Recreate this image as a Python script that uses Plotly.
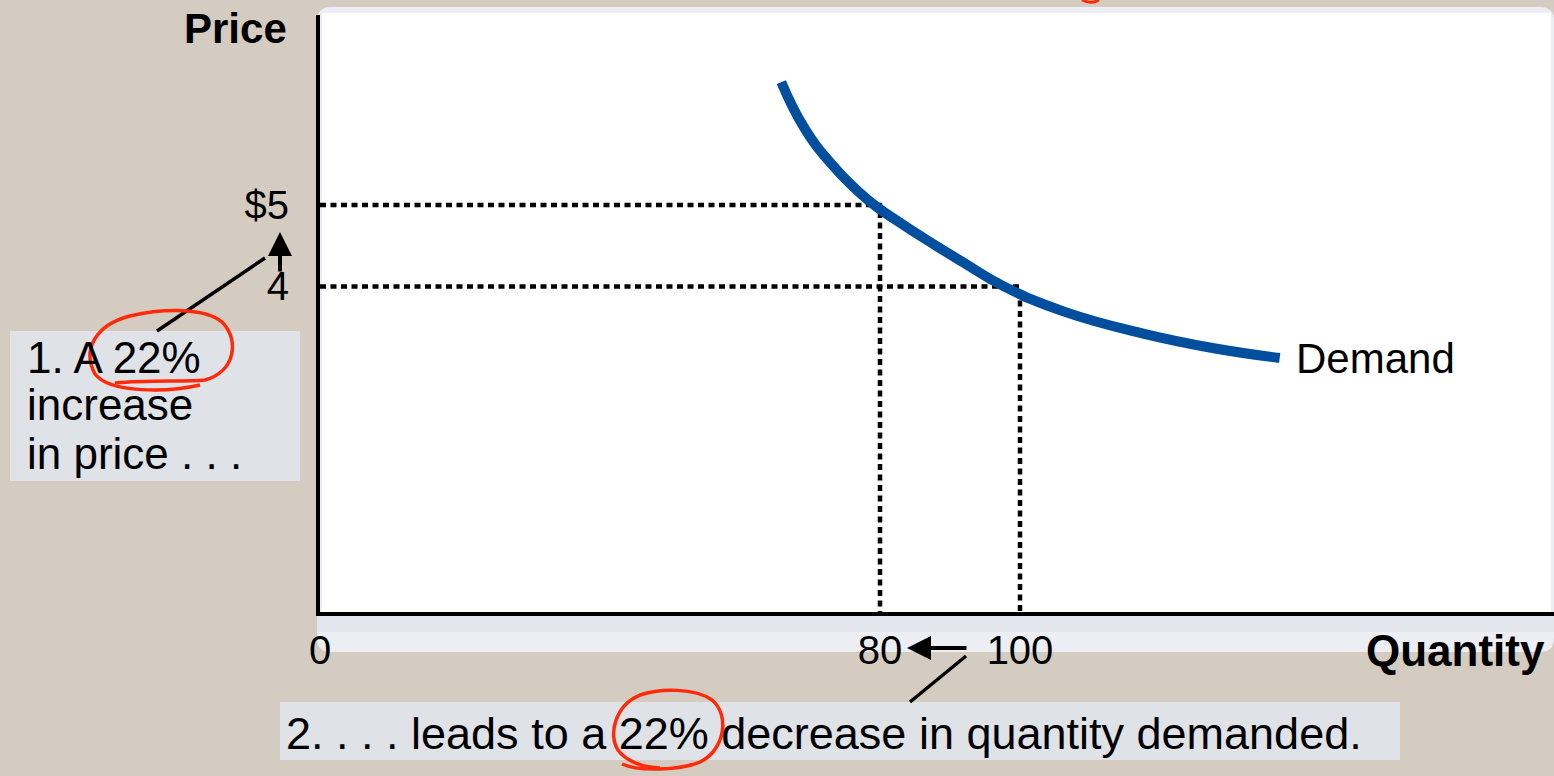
import plotly.graph_objects as go

# demand curve (quantity, price)
demand_q = [65.9, 69.1, 73.1, 78.3, 82.9, 88.0, 91.8, 97.7, 106.3, 117.6, 127.7, 137.1]
demand_p = [6.51, 5.96, 5.50, 5.06, 4.78, 4.50, 4.30, 4.00, 3.69, 3.42, 3.24, 3.12]

# the two points on the curve
prices = [5, 4]
quantities = [80, 100]

y_ticks = [5, 4]
y_tick_text = ["$5", "4"]
x_ticks = [0, 80, 100]
x_tick_text = ["0", "80", "100"]

FONT = "Arial, 'Liberation Sans', sans-serif"
W, H = 1554, 776
L, R, T, B = 320, 0, 15, 164
PW, PH = W - L - R, H - T - B


def px(x):
    return (x - L) / PW


def py(y):
    return (H - B - y) / PH


def path(cmds):
    out = ""
    for c, pts in cmds:
        out += c + " ".join("%.5f,%.5f" % (px(x), py(y)) for x, y in pts) + " "
    return out


def rounded(x0, y0, x1, y1, r):
    s = path([("M", [(x0 + r, y0)]), ("L", [(x1 - r, y0)]), ("Q", [(x1, y0), (x1, y0 + r)]),
              ("L", [(x1, y1 - r)]), ("Q", [(x1, y1), (x1 - r, y1)]), ("L", [(x0 + r, y1)]),
              ("Q", [(x0, y1), (x0, y1 - r)]), ("L", [(x0, y0 + r)]), ("Q", [(x0, y0), (x0 + r, y0)])])
    return s + "Z"


fig = go.Figure()

# dotted guide lines
for q, p in zip(quantities, prices):
    fig.add_trace(go.Scatter(
        x=[0, q, q], y=[p, p, 0],
        mode="lines",
        line=dict(color="black", width=4.5, dash="6px,4.5px"),
        hoverinfo="skip",
        showlegend=False,
    ))

fig.add_trace(go.Scatter(
    x=demand_q, y=demand_p,
    mode="lines",
    line=dict(color="#004f9f", width=10, shape="spline", smoothing=1.3),
    name="Demand",
    showlegend=False,
))

shapes = [
    # slide panel behind the graph
    dict(type="path", xref="paper", yref="paper", layer="below",
         path=rounded(317, 7, 1554, 652, 14), fillcolor="#eceef3", line=dict(width=0)),
    dict(type="rect", xref="paper", yref="paper", layer="below",
         x0=px(317), x1=px(1554), y0=py(632), y1=py(612), fillcolor="#e3e6ed", line=dict(width=0)),
    dict(type="rect", xref="paper", yref="paper", layer="below",
         x0=px(322), x1=px(1551), y0=py(612), y1=py(13), fillcolor="white", line=dict(width=0)),
    # note boxes
    dict(type="rect", xref="paper", yref="paper", layer="below",
         x0=px(10), x1=px(300), y0=py(481), y1=py(331), fillcolor="#dfe2e7", line=dict(width=0)),
    dict(type="rect", xref="paper", yref="paper", layer="below",
         x0=px(280), x1=px(1400), y0=py(760), y1=py(702), fillcolor="#dfe2e7", line=dict(width=0)),
    # leader lines
    dict(type="line", xref="paper", yref="paper", x0=px(157), y0=py(331), x1=px(265), y1=py(258),
         line=dict(color="black", width=3.5)),
    dict(type="line", xref="paper", yref="paper", x0=px(966), y0=py(656), x1=px(910), y1=py(702),
         line=dict(color="black", width=3.5)),
    # red hand drawn marks
    dict(type="path", xref="paper", yref="paper", layer="above",
         path=path([("M", [(115, 383)]), ("C", [(150, 380), (185, 382), (205, 380)]),
                    ("C", [(235, 372), (240, 340), (222, 322)]),
                    ("C", [(205, 308), (165, 308), (130, 316)]),
                    ("C", [(95, 325), (82, 350), (95, 374)]),
                    ("C", [(110, 394), (170, 392), (200, 385)])]),
         line=dict(color="#ff2a0a", width=3.5)),
    dict(type="path", xref="paper", yref="paper", layer="above",
         path=path([("M", [(622, 764)]), ("C", [(640, 772), (680, 770), (700, 762)]),
                    ("C", [(725, 750), (730, 715), (712, 700)]),
                    ("C", [(695, 688), (660, 688), (640, 695)]),
                    ("C", [(615, 705), (608, 735), (618, 750)]),
                    ("C", [(625, 760), (640, 767), (660, 768)])]),
         line=dict(color="#ff2a0a", width=3.5)),
    dict(type="path", xref="paper", yref="paper", layer="above",
         path=path([("M", [(1082, 0)]), ("C", [(1088, 3), (1094, 3), (1099, 0)])]),
         line=dict(color="#ff2a0a", width=3)),
]

annotations = [
    dict(text="<b>Price</b>", x=px(289), y=py(28), xanchor="right", yanchor="middle", font=dict(size=42)),
    dict(text="<b>Quantity</b>", x=px(1547), y=py(650), xanchor="right", yanchor="middle", font=dict(size=44)),
    dict(text="1. A 22%", x=px(25), y=py(357), xanchor="left", yanchor="middle", font=dict(size=44)),
    dict(text="increase", x=px(25), y=py(405), xanchor="left", yanchor="middle", font=dict(size=44)),
    dict(text="in price . . .", x=px(25), y=py(453), xanchor="left", yanchor="middle", font=dict(size=44)),
    dict(text="2. . . . leads to a 22% decrease in quantity demanded.", x=px(284), y=py(733),
         xanchor="left", yanchor="middle", font=dict(size=45)),
    # arrows between the tick labels
    dict(text="", x=px(280), y=py(232), ax=0, ay=41, showarrow=True, arrowhead=2,
         arrowsize=1.2, arrowwidth=4, arrowcolor="black", standoff=0),
    dict(text="", x=px(907), y=py(648), ax=61, ay=0, showarrow=True, arrowhead=2,
         arrowsize=1.2, arrowwidth=4, arrowcolor="black", standoff=0),
]
for a in annotations:
    a.setdefault("xref", "paper")
    a.setdefault("yref", "paper")
    a.setdefault("showarrow", False)
    a.setdefault("font", dict(size=40))
    a["font"] = dict(family=FONT, color="black", **a["font"])

# curve label at the end of the demand line
annotations.append(dict(text="Demand", x=demand_q[-1], y=demand_p[-1], xref="x", yref="y",
                        xanchor="left", yanchor="middle", xshift=14, showarrow=False,
                        font=dict(family=FONT, size=42, color="black")))

fig.update_layout(
    width=W, height=H,
    margin=dict(l=L, r=R, t=T, b=B),
    paper_bgcolor="#d4ccc1",
    plot_bgcolor="rgba(0,0,0,0)",
    showlegend=False,
    shapes=shapes,
    annotations=annotations,
    xaxis=dict(range=[0, PW / 7.0], showgrid=False, zeroline=False,
               showline=True, linecolor="black", linewidth=4,
               tickvals=x_ticks, ticktext=x_tick_text, ticks="",
               ticklabelstandoff=0, tickfont=dict(family=FONT, size=40, color="black")),
    yaxis=dict(range=[0, PH / 81.4], showgrid=False, zeroline=False,
               showline=True, linecolor="black", linewidth=4,
               tickvals=y_ticks, ticktext=y_tick_text, ticks="",
               ticklabelstandoff=19, tickfont=dict(family=FONT, size=40, color="black")),
)

fig.write_html("out.html", config={"displayModeBar": False},
               post_script="document.body.style.margin='0';")
